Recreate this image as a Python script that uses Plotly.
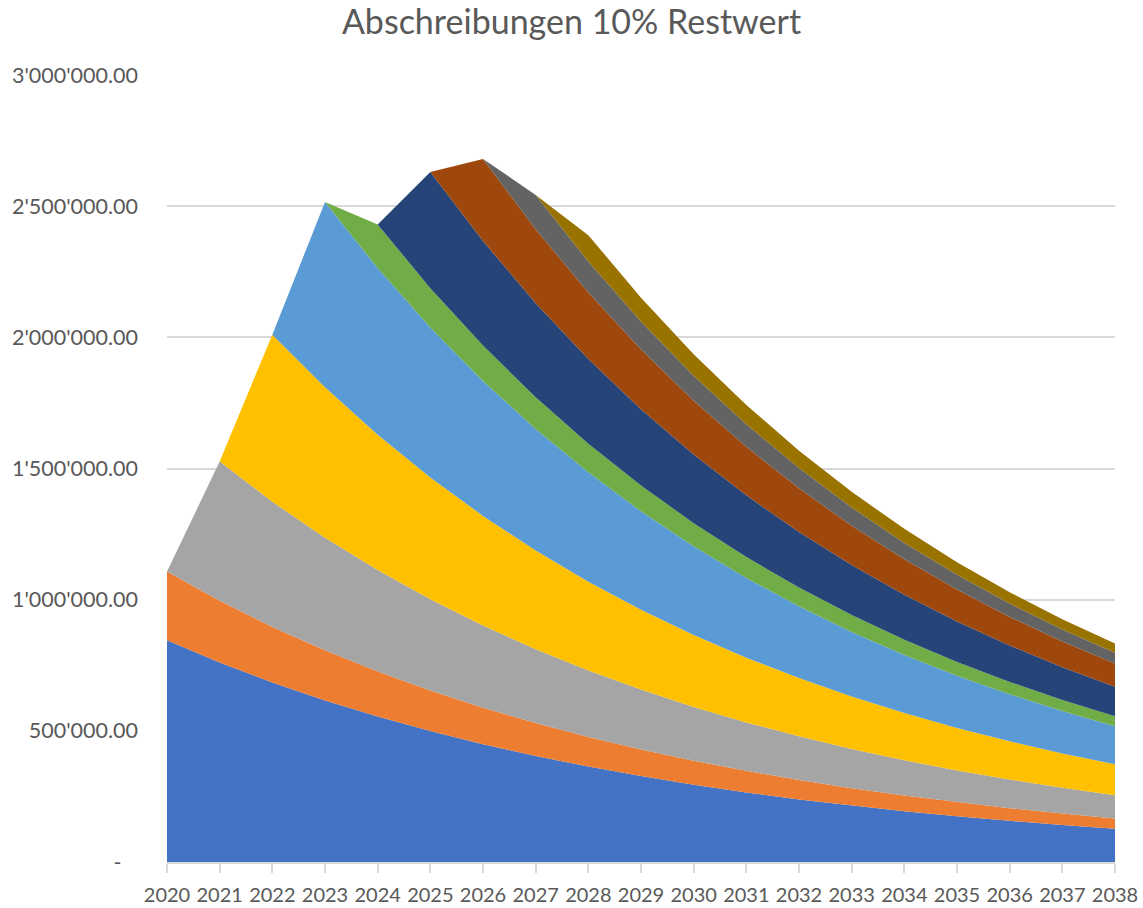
import plotly.graph_objects as go

years = list(range(2020, 2039))

# Stacked series (0 before each tranche starts)
s1 = [845000, 760500, 684000, 616000, 554400, 499000, 449100, 404200, 363700, 327400,
      294600, 265200, 238700, 214800, 193300, 174000, 156600, 140900, 126800]
s2 = [262000, 235800, 212200, 191000, 171900, 154700, 139200, 125300, 112800, 101500,
      91400, 82200, 74000, 66600, 59900, 53900, 48500, 43700, 39300]
s3 = [0, 530000, 477000, 429300, 386400, 347700, 313000, 281700, 253500, 228200,
      205300, 184800, 166300, 149700, 134700, 121200, 109100, 98200, 88400]
s4 = [0, 0, 637000, 573300, 516000, 464400, 417900, 376100, 338500, 304700,
      274200, 246800, 222100, 199900, 179900, 161900, 145700, 131200, 118000]
s5 = [0, 0, 0, 706000, 635400, 571900, 514700, 463200, 416900, 375200,
      337700, 303900, 273500, 246200, 221600, 199400, 179500, 161500, 145400]
s6 = [0, 0, 0, 0, 166000, 149400, 134500, 121000, 108900, 98000,
      88200, 79400, 71500, 64300, 57900, 52100, 46900, 42200, 38000]
s7 = [0, 0, 0, 0, 0, 443000, 398700, 358800, 322900, 290700,
      261600, 235400, 211900, 190700, 171600, 154500, 139000, 125100, 112600]
s8 = [0, 0, 0, 0, 0, 0, 313000, 281700, 253500, 228200,
      205400, 184800, 166300, 149700, 134700, 121300, 109100, 98200, 88400]
s9 = [0, 0, 0, 0, 0, 0, 0, 131000, 117900, 106100,
      95500, 86000, 77400, 69600, 62700, 56400, 50700, 45700, 41100]
s10 = [0, 0, 0, 0, 0, 0, 0, 0, 101000, 90900,
       81800, 73600, 66300, 59600, 53700, 48300, 43500, 39100, 35200]

series = [s1, s2, s3, s4, s5, s6, s7, s8, s9, s10]
colors = ["#4472C4", "#ED7D31", "#A5A5A5", "#FFC000", "#5B9BD5",
          "#70AD47", "#264478", "#9E480E", "#636363", "#997300"]

y_tickvals = [0, 500000, 1000000, 1500000, 2000000, 2500000, 3000000]
y_ticktext = ["-\u00a0\u00a0\u00a0", "500'000.00", "1'000'000.00", "1'500'000.00",
              "2'000'000.00", "2'500'000.00", "3'000'000.00"]

fig = go.Figure()
for i, (vals, col) in enumerate(zip(series, colors)):
    fig.add_trace(go.Scatter(
        x=years, y=vals, mode="lines", stackgroup="one",
        line=dict(width=0, color=col), fillcolor=col,
        name=f"Serie {i+1}", showlegend=False, hoverinfo="x+y"))

font_family = "Lato, 'Open Sans', sans-serif"
fig.update_layout(
    width=1143, height=908,
    paper_bgcolor="white", plot_bgcolor="white",
    margin=dict(l=167, r=28, t=75, b=46),
    title=dict(text="Abschreibungen 10% Restwert", x=0.5, xanchor="center",
               y=0.9752, yanchor="middle",
               font=dict(family=font_family, size=34, color="#595959")),
    showlegend=False,
    xaxis=dict(range=[2020, 2038], tickmode="array", tickvals=years,
               ticktext=[str(y) for y in years],
               showgrid=False, zeroline=False, automargin=False,
               showline=True, linecolor="#D9D9D9", linewidth=1.5,
               ticks="outside", ticklen=9, tickcolor="#D9D9D9", tickwidth=1.5,
               ticklabelstandoff=5,
               tickfont=dict(family=font_family, size=20, color="#595959")),
    yaxis=dict(range=[0, 3000000], tickmode="array", tickvals=y_tickvals,
               ticktext=y_ticktext, showgrid=True, gridcolor="#D9D9D9",
               gridwidth=1.5, zeroline=False, showline=False, automargin=False,
               ticklabelstandoff=28,
               tickfont=dict(family=font_family, size=21.5, color="#595959")),
)

fig.write_html("out.html",
               config={"displayModeBar": False},
               post_script="document.body.style.margin='0';document.body.style.overflow='hidden';")
